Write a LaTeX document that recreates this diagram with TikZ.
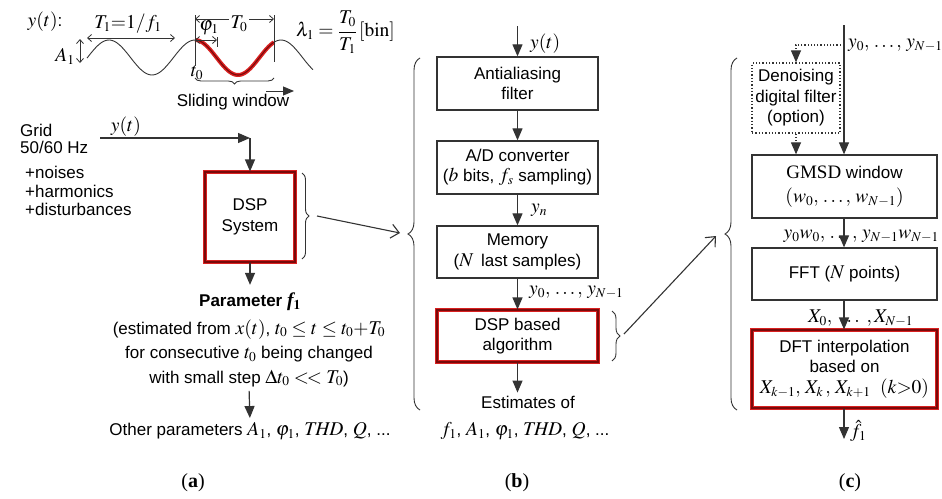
\documentclass[tikz,border=0pt]{standalone}
\usepackage{mathptmx}
\usepackage[no-math]{fontspec}
\setmainfont{Liberation Sans}
\newfontfamily\tms{Liberation Serif}
\DeclareMathSizes{17}{19.5}{13.5}{10}
\usetikzlibrary{arrows.meta,decorations.pathreplacing,calc}
\definecolor{ln}{HTML}{333333}
\definecolor{rd}{HTML}{D92020}
\definecolor{drd}{HTML}{7A0A0A}
\tikzset{
  box/.style={draw=ln, line width=1.3pt, align=center, inner sep=0pt},
  redbox/.style={draw=drd, line width=1.1pt, align=center, inner sep=0pt,
     preaction={draw=rd, line width=4pt}},
  flow/.style={draw=ln, line width=1.2pt, -{Triangle[width=10pt,length=12pt]}},
  dimarr/.style={draw=ln, line width=0.8pt, {Straight Barb[length=4pt,width=7pt]}-{Straight Barb[length=4pt,width=7pt]}},
  openarr/.style={draw=ln, line width=1.1pt, -{Straight Barb[length=8pt,width=14pt]}},
  brc/.style={draw=ln, line width=0.9pt, decorate, decoration={brace, amplitude=#1}},
  lbl/.style={inner sep=0pt},
}
\begin{document}
\begin{tikzpicture}[x=1pt,y=1pt, font=\fontsize{17}{20.5}\selectfont]
\useasboundingbox (0,0) rectangle (942,-498);

% ---------------- panel (a): signal sketch ----------------
\node[lbl] (ylab) at (45,-22) {$y(t)$:};
\draw[ln, line width=0.9pt, domain=87:313, samples=120, smooth]
  plot (\x, {-(57.5 - 17.5*cos(4.18605*(\x-195)))});
\draw[rd, line width=4pt, domain=195:274, samples=60, smooth]
  plot (\x, {-(57.5 - 17.5*cos(4.18605*(\x-195)))});
\draw[drd, line width=1.1pt, domain=195:274, samples=60, smooth]
  plot (\x, {-(57.5 - 17.5*cos(4.18605*(\x-195)))});
\coordinate (t1a) at (87,-38);
\coordinate (t1b) at (175,-38);
\draw[dimarr] (t1a) -- (t1b);
\node[lbl] (t1lab) at (128,-24) {$T_1{=}1/f_1$};
\coordinate (a1a) at (80,-39);
\coordinate (a1b) at (80,-63);
\draw[dimarr] (a1a) -- (a1b);
\node[lbl] (a1lab) at (65,-56) {$A_1$};
\coordinate (v0a) at (195,-15);
\coordinate (v0b) at (195,-66);
\coordinate (v1a) at (274,-15);
\coordinate (v1b) at (274,-62);
\draw[ln, line width=0.8pt] (v0a) -- (v0b);
\draw[ln, line width=0.8pt] (v1a) -- (v1b);
\coordinate (t0a) at (195,-19);
\coordinate (t0b) at (274,-19);
\draw[dimarr] (t0a) -- (t0b);
\node[lbl, fill=white, inner xsep=2pt] (t0lab) at (239,-24) {$T_0$};
\coordinate (pha) at (195,-40);
\coordinate (phb) at (217,-40);
\draw[dimarr] (pha) -- (phb);
\draw[ln, line width=0.8pt] (217,-37) -- (217,-47);
\node[lbl] (phlab) at (209,-28) {$\varphi_1$};
\node[lbl] (t0b2) at (197,-73) {$t_0$};
\node[lbl, anchor=west] (lam) at (296,-32) {$\lambda_1 = \displaystyle\frac{T_0}{T_1}\,[\mathrm{bin}]$};
\draw[brc=6pt] (274,-78) -- (195,-78);
\coordinate (swa) at (266,-91);
\coordinate (swb) at (294,-91);
\draw[ln, line width=0.9pt, -{Triangle[width=9pt,length=11pt]}] (swa) -- (swb);
\node[lbl] (slide) at (233,-102) {Sliding window};

% ---------------- panel (a): block ----------------
\node[lbl, anchor=west] (grid) at (20,-141) {\begin{tabular}{@{}l@{}}Grid\\[-3.5pt]50/60 Hz\end{tabular}};
\node[lbl, anchor=west] (noise) at (25,-193) {\begin{tabular}{@{}l@{}}+noises\\[-2pt]+harmonics\\[-2pt]+disturbances\end{tabular}};
\node[redbox, minimum width=90pt, minimum height=90pt] (dsp) at (250,-217) {DSP\\System};
\coordinate (gin) at (100,-138);
\coordinate (gcor) at (250,-138);
\draw[flow] (gin) -- (gcor);
\draw[flow] (gcor) -- (dsp.north);
\node[lbl] (gy) at (126,-127) {$y(t)$};
\draw[brc=7pt] (302,-173) -- (302,-259);
\node[lbl] (param) at (250,-302) {\textbf{Parameter} {\tms\bfseries\itshape\fontsize{19.5}{20}\selectfont f}$_{\mathbf 1}$};
\node[lbl, align=center, font=\fontsize{17}{24.5}\selectfont] (est) at (249,-353)
  {(estimated from $x(t)$, $t_0 \le t \le t_0{+}T_0$\\
   for consecutive $t_0$ being changed\\
   with small step $\Delta t_0 <\!< T_0$)};
\draw[flow, shorten >=8pt] (dsp.south) -- (param.north);
\node[lbl] (other) at (250,-431) {Other parameters $A_1$, $\varphi_1$, $\mathit{THD}$, $Q$, ...};
\draw[flow, shorten <=4pt, shorten >=4pt] (est.south) -- (other.north);
\node[lbl, font=\tms\fontsize{20}{24}\selectfont] (pa) at (193,-483) {(\textbf{a})};

% ---------------- panel (b) ----------------
\node[box, minimum width=161pt, minimum height=53pt] (aa) at (517.5,-83.5) {Antialiasing\\filter};
\node[box, minimum width=161pt, minimum height=53pt] (ad) at (517.5,-167.5) {A/D converter\\($b$ bits, $f_s$ sampling)};
\node[box, minimum width=161pt, minimum height=52pt] (mem) at (517.5,-252) {Memory\\($N$\, last samples)};
\node[redbox, minimum width=161pt, minimum height=52pt] (alg) at (517.5,-336) {DSP based\\algorithm};
\coordinate (bin) at (517.5,-26);
\draw[flow] (bin) -- (aa.north);
\node[lbl, anchor=west] (by) at (530,-44) {$y(t)$};
\draw[flow] (aa.south) -- (ad.north);
\draw[flow] (ad.south) -- (mem.north);
\node[lbl, anchor=west] (byn) at (531,-210) {$y_n$};
\draw[flow] (mem.south) -- (alg.north);
\node[lbl, anchor=west] (bys) at (529,-292) {$y_0,\,\ldots,\,y_{N-1}$};
\node[lbl] (esti) at (528,-402) {Estimates of};
\node[lbl] (estv) at (525,-431) {$f_1$, $A_1$, $\varphi_1$, $\mathit{THD}$, $Q$, ...};
\draw[flow, shorten >=3pt] (alg.south -| bin) -- (esti.north -| bin);
\draw[brc=12pt] (420,-410) -- (420,-58);
\draw[brc=8pt] (612,-311) -- (612,-361);
\node[lbl, font=\tms\fontsize{20}{24}\selectfont] (pb) at (517,-483) {(\textbf{b})};

% ---------------- panel (c) ----------------
\node[box, dotted, minimum width=88pt, minimum height=70pt, font=\fontsize{17}{20.5}\selectfont] (den) at (796,-98) {Denoising\\digital filter\\(option)};
\node[box, minimum width=185pt, minimum height=63pt, font=\fontsize{17}{24}\selectfont] (gmsd) at (844.5,-186.5) {{\tms\fontsize{19}{20}\selectfont GMSD} window\\$(w_0,\,\ldots,\,w_{N-1})$};
\node[box, minimum width=185pt, minimum height=52pt] (fft) at (844.5,-274) {FFT ($N$ points)};
\node[redbox, minimum width=185pt, minimum height=78pt] (dft) at (844.5,-369)
  {DFT interpolation\\based on\\$X_{k-1},\, X_k\,,\, X_{k+1}\ \ (k{>}0)$};
\coordinate (ctop) at (844,-25);
\coordinate (cbr) at (844,-45);
\draw[flow] (ctop) -- (ctop |- gmsd.north);
\node[lbl, anchor=west] (cys) at (848,-45) {$y_0,\,\ldots,\,y_{N-1}$};
\draw[flow, dotted] (cbr) -| (den.north);
\draw[flow, dotted] (den.south) -- (den.south |- gmsd.north);
\node[lbl, anchor=east] (yw) at (939,-236) {$y_0w_0,\,\ldots,\,y_{N-1}w_{N-1}$};
\draw[flow] (gmsd.south -| ctop) -- (fft.north -| ctop);
\node[lbl, anchor=west] (xs) at (808,-318) {$X_0,\ \ldots\ , X_{N-1}$};
\draw[flow] (fft.south -| ctop) -- (dft.north -| ctop);
\coordinate (cout) at (844,-439);
\draw[flow] (dft.south -| ctop) -- (cout);
\node[lbl, anchor=west] (fhat) at (850,-431) {$\hat{f}_1$};
\draw[brc=12pt] (737,-410) -- (737,-58);
\node[lbl, font=\tms\fontsize{20}{24}\selectfont] (pc) at (850,-483) {(\textbf{c})};

% ---------------- linking arrows ----------------
\coordinate (ta) at (317,-216);
\coordinate (tb) at (400,-233);
\draw[openarr] (ta) -- (tb);
\coordinate (tc) at (624,-334);
\coordinate (td) at (716,-236);
\draw[openarr] (tc) -- (td);
\end{tikzpicture}
\end{document}
